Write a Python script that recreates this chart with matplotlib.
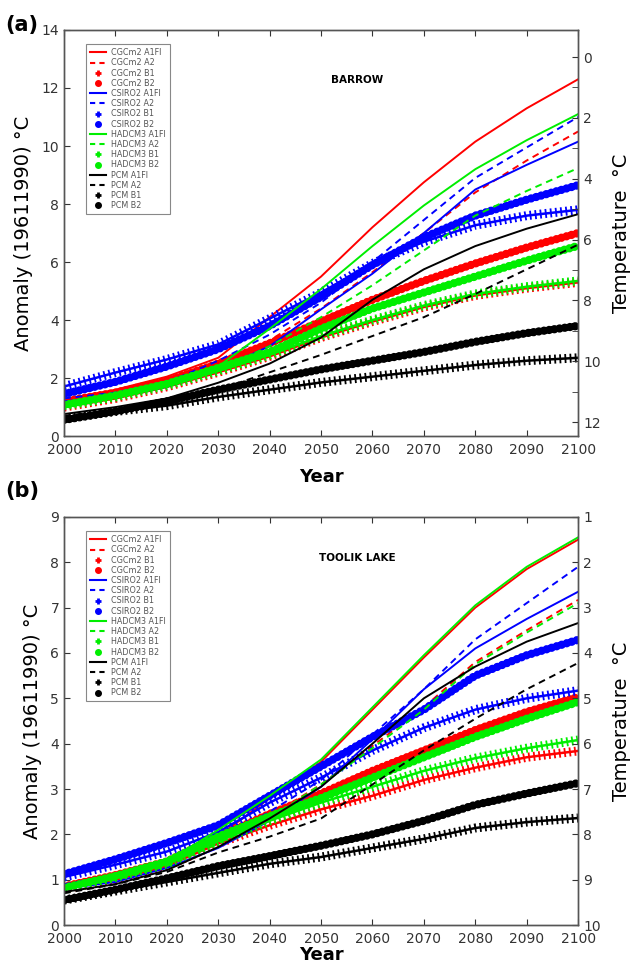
#!/usr/bin/env python3

"""Projected annual air temperature anomalies at Barrow and Toolik Lake."""

import matplotlib
matplotlib.use("Agg")
import matplotlib.pyplot as plt
from matplotlib.lines import Line2D
from matplotlib.ticker import MultipleLocator

years = [2000, 2010, 2020, 2030, 2040, 2050, 2060, 2070, 2080, 2090, 2100]

models = ["CGCm2", "CSIRO2", "HADCM3", "PCM"]
scenarios = ["A1FI", "A2", "B1", "B2"]
model_colors = ["#ff0000", "#0000ff", "#00ee00", "#000000"]

# (a) Barrow, anomaly (deg C) per decade
barrow = {
    ("CGCm2", "A1FI"): [1.2, 1.6, 2.05, 2.7, 4.1, 5.5, 7.2, 8.75, 10.15, 11.3, 12.3],
    ("CGCm2", "A2"): [1.15, 1.5, 1.9, 2.5, 3.3, 4.4, 5.65, 7.0, 8.4, 9.5, 10.5],
    ("CGCm2", "B1"): [1.0, 1.3, 1.7, 2.2, 2.75, 3.4, 3.95, 4.45, 4.85, 5.1, 5.3],
    ("CGCm2", "B2"): [1.2, 1.5, 1.9, 2.5, 3.2, 3.95, 4.7, 5.35, 5.95, 6.5, 7.0],
    ("CSIRO2", "A1FI"): [1.2, 1.35, 1.7, 2.3, 3.1, 4.37, 5.6, 7.0, 8.5, 9.35, 10.15],
    ("CSIRO2", "A2"): [1.3, 1.5, 1.85, 2.6, 3.5, 4.6, 6.0, 7.45, 8.9, 9.95, 11.0],
    ("CSIRO2", "B1"): [1.71, 2.19, 2.64, 3.16, 4.05, 4.95, 5.95, 6.7, 7.27, 7.6, 7.8],
    ("CSIRO2", "B2"): [1.45, 1.87, 2.4, 3.0, 3.8, 4.8, 5.9, 6.85, 7.6, 8.15, 8.65],
    ("HADCM3", "A1FI"): [1.1, 1.4, 1.8, 2.4, 3.7, 5.07, 6.55, 7.95, 9.2, 10.2, 11.1],
    ("HADCM3", "A2"): [1.1, 1.4, 1.8, 2.3, 3.1, 4.1, 5.2, 6.4, 7.6, 8.45, 9.24],
    ("HADCM3", "B1"): [1.05, 1.35, 1.75, 2.25, 2.8, 3.45, 4.0, 4.5, 4.9, 5.15, 5.35],
    ("HADCM3", "B2"): [1.07, 1.4, 1.8, 2.35, 2.9, 3.7, 4.4, 4.95, 5.5, 6.05, 6.56],
    ("PCM", "A1FI"): [0.76, 1.0, 1.3, 1.84, 2.5, 3.4, 4.7, 5.75, 6.55, 7.15, 7.65],
    ("PCM", "A2"): [0.7, 0.9, 1.2, 1.6, 2.2, 2.8, 3.45, 4.1, 4.9, 5.75, 6.6],
    ("PCM", "B1"): [0.6, 0.85, 1.05, 1.35, 1.6, 1.85, 2.05, 2.25, 2.45, 2.6, 2.7],
    ("PCM", "B2"): [0.56, 0.85, 1.2, 1.6, 1.95, 2.3, 2.6, 2.9, 3.25, 3.55, 3.8],
}

# (b) Toolik Lake, anomaly (deg C) per decade
toolik = {
    ("CGCm2", "A1FI"): [0.85, 1.05, 1.35, 1.95, 2.8, 3.6, 4.75, 5.9, 7.0, 7.85, 8.5],
    ("CGCm2", "A2"): [0.85, 1.0, 1.3, 1.85, 2.4, 3.1, 3.95, 4.8, 5.8, 6.5, 7.17],
    ("CGCm2", "B1"): [0.8, 1.0, 1.3, 1.8, 2.2, 2.55, 2.85, 3.2, 3.47, 3.7, 3.84],
    ("CGCm2", "B2"): [0.85, 1.1, 1.4, 1.95, 2.45, 2.9, 3.4, 3.85, 4.3, 4.7, 5.03],
    ("CSIRO2", "A1FI"): [0.8, 0.95, 1.26, 1.7, 2.3, 3.05, 4.1, 5.2, 6.1, 6.75, 7.35],
    ("CSIRO2", "A2"): [0.9, 1.1, 1.4, 1.85, 2.5, 3.2, 4.2, 5.2, 6.3, 7.1, 7.9],
    ("CSIRO2", "B1"): [1.06, 1.33, 1.62, 2.05, 2.7, 3.25, 3.85, 4.35, 4.75, 5.0, 5.17],
    ("CSIRO2", "B2"): [1.12, 1.45, 1.81, 2.2, 2.85, 3.5, 4.15, 4.75, 5.5, 5.95, 6.29],
    ("HADCM3", "A1FI"): [0.85, 1.05, 1.4, 2.1, 2.85, 3.65, 4.8, 5.95, 7.05, 7.9, 8.55],
    ("HADCM3", "A2"): [0.8, 1.0, 1.3, 1.8, 2.35, 3.1, 3.9, 4.75, 5.75, 6.45, 7.1],
    ("HADCM3", "B1"): [0.8, 1.05, 1.35, 1.85, 2.3, 2.7, 3.05, 3.4, 3.68, 3.9, 4.08],
    ("HADCM3", "B2"): [0.82, 1.08, 1.4, 1.95, 2.4, 2.8, 3.25, 3.7, 4.15, 4.55, 4.92],
    ("PCM", "A1FI"): [0.73, 0.9, 1.21, 1.72, 2.35, 3.05, 4.0, 5.0, 5.7, 6.25, 6.66],
    ("PCM", "A2"): [0.7, 0.9, 1.17, 1.6, 1.95, 2.35, 3.1, 3.85, 4.55, 5.2, 5.78],
    ("PCM", "B1"): [0.55, 0.75, 0.95, 1.15, 1.35, 1.5, 1.7, 1.9, 2.14, 2.27, 2.36],
    ("PCM", "B2"): [0.55, 0.78, 1.03, 1.3, 1.52, 1.75, 2.0, 2.3, 2.65, 2.9, 3.13],
}

TICK_GREY = "#333333"


def draw_series(ax, x, y, color, scen):
    """A1FI solid, A2 dashed, B1 dense plus signs, B2 dense dots."""
    if scen == "A1FI":
        ax.plot(x, y, color=color, lw=1.4)
    elif scen == "A2":
        ax.plot(x, y, color=color, lw=1.4, ls=(0, (3.5, 2.5)))
    elif scen == "B1":
        ax.plot(x, y, color=color, lw=1.8)
        ax.plot(x, y, color=color, lw=6.5, ls=(0, (0.2, 0.37)),
                dash_capstyle="butt")
    else:
        ax.plot(x, y, color=color, lw=6.0, ls=(0, (0.01, 0.62)),
                dash_capstyle="round")


def legend_handles():
    handles, labels = [], []
    for m, c in zip(models, model_colors):
        for s in scenarios:
            if s == "A1FI":
                h = Line2D([], [], color=c, lw=1.5)
            elif s == "A2":
                h = Line2D([], [], color=c, lw=1.5, ls=(0, (2.5, 2)))
            elif s == "B1":
                h = Line2D([], [], color=c, lw=0, marker="+", ms=5, mew=2)
            else:
                h = Line2D([], [], color=c, lw=0, marker="o", ms=4)
            handles.append(h)
            labels.append(f"{m} {s}")
    return handles, labels


def panel(ax, data, site, ymax, right_lim, right_ticks, right_minor,
          site_xy, xlabelpad):
    for m, c in zip(models, model_colors):
        for s in scenarios:
            draw_series(ax, years, data[(m, s)], c, s)

    ax.set_xlim(2000, 2100)
    ax.set_ylim(0, ymax)
    ax.set_xticks(range(2000, 2101, 10))
    ax.tick_params(direction="in", top=True, labelsize=10,
                   colors=TICK_GREY, length=4)
    ax.tick_params(axis="x", pad=5)
    ax.set_xlabel("Year", fontsize=13, fontweight="bold",
                  labelpad=xlabelpad)
    ax.set_ylabel("Anomaly (19611990) \u00b0C", fontsize=14, labelpad=6)
    for sp in ax.spines.values():
        sp.set_color("#555555")
        sp.set_linewidth(1.0)

    ax.text(site_xy[0], site_xy[1], site, transform=ax.transAxes,
            fontsize=7.5, fontweight="bold", ha="center", va="center")

    h, l = legend_handles()
    leg = ax.legend(h, l, loc="upper left", bbox_to_anchor=(0.035, 0.975),
                    fontsize=5.8, handlelength=2.0, labelspacing=0.15,
                    borderpad=0.5, handletextpad=0.6, fancybox=False,
                    edgecolor="#888888", framealpha=1)
    for t in leg.get_texts():
        t.set_color("#555555")
    leg.get_frame().set_linewidth(0.8)

    ax2 = ax.twinx()
    ax2.set_ylim(*right_lim)
    ax2.set_yticks(right_ticks)
    if right_minor:
        ax2.yaxis.set_minor_locator(MultipleLocator(right_minor))
    ax2.tick_params(direction="in", labelsize=10, colors=TICK_GREY,
                    length=4, which="both")
    ax2.set_ylabel("Temperature  \u00b0C", fontsize=14, labelpad=8)
    for sp in ax2.spines.values():
        sp.set_color("#555555")
        sp.set_linewidth(1.0)
    return ax2


def main():
    fig = plt.figure(figsize=(6.3, 9.67), dpi=100)
    ax_a = fig.add_axes([0.1016, 0.549, 0.816, 0.42])
    ax_b = fig.add_axes([0.1016, 0.0434, 0.816, 0.422])

    panel(ax_a, barrow, "BARROW", 14, (12.46, -0.89), range(0, 13, 2), 1,
          (0.57, 0.877), 8)
    ax_a.set_yticks(range(0, 15, 2))
    panel(ax_b, toolik, "TOOLIK LAKE", 9, (10, 1), range(1, 11), None,
          (0.57, 0.90), 0)
    ax_b.set_yticks(range(0, 10))

    fig.text(0.008, 0.985, "(a)", fontsize=15, fontweight="bold",
             va="top")
    fig.text(0.008, 0.503, "(b)", fontsize=15, fontweight="bold",
             va="top")

    fig.savefig("out.png", dpi=100)


if __name__ == "__main__":
    main()
